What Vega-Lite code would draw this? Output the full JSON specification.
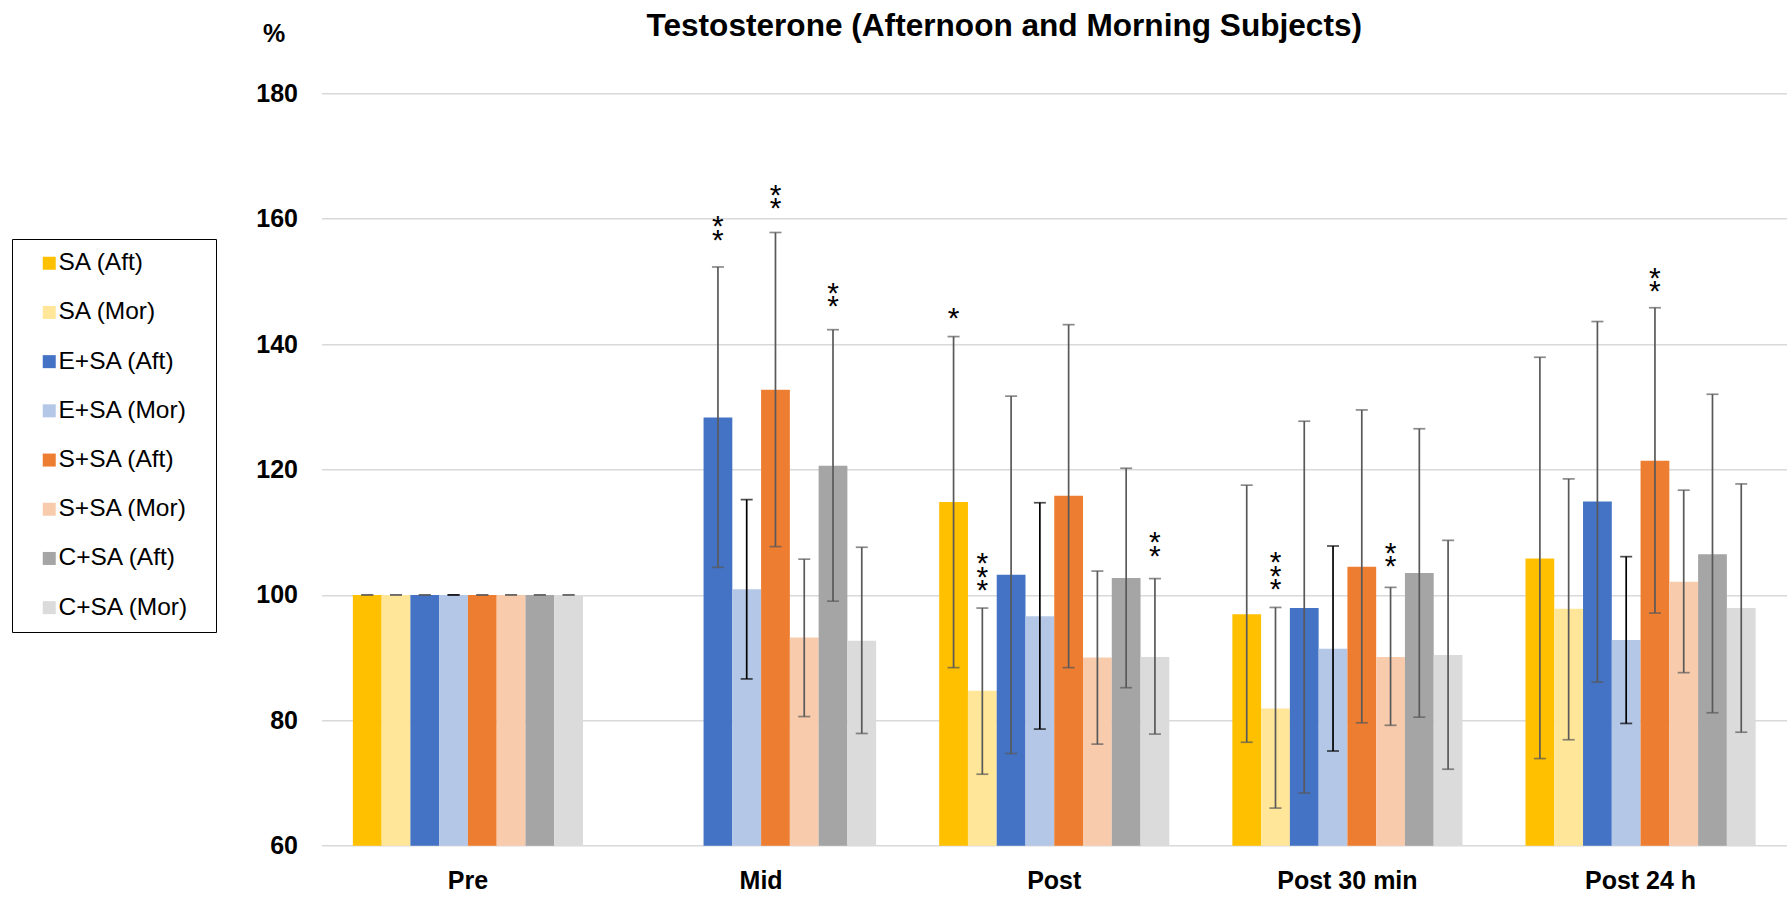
{
  "$schema": "https://vega.github.io/schema/vega-lite/v6.json",
  "autosize": {"type": "none"},
  "width": 1465.5,
  "height": 752.4,
  "padding": {"left": 321.5, "top": 93.3, "right": 0, "bottom": 53.3},
  "background": "white",
  "title": {
    "text": "Testosterone (Afternoon and Morning Subjects)",
    "font": "Liberation Sans",
    "fontSize": 31.6,
    "fontWeight": "bold",
    "color": "black",
    "frame": "group",
    "anchor": "middle",
    "dx": -50,
    "dy": 46,
    "baseline": "alphabetic",
    "offset": 0
  },
  "datasets": {
    "bars": [
      {"time": "Pre", "group": "SA (Aft)", "value": 100, "lo": 100, "hi": 100},
      {"time": "Pre", "group": "SA (Mor)", "value": 100, "lo": 100, "hi": 100},
      {"time": "Pre", "group": "E+SA (Aft)", "value": 100, "lo": 100, "hi": 100},
      {"time": "Pre", "group": "E+SA (Mor)", "value": 100, "lo": 100, "hi": 100},
      {"time": "Pre", "group": "S+SA (Aft)", "value": 100, "lo": 100, "hi": 100},
      {"time": "Pre", "group": "S+SA (Mor)", "value": 100, "lo": 100, "hi": 100},
      {"time": "Pre", "group": "C+SA (Aft)", "value": 100, "lo": 100, "hi": 100},
      {"time": "Pre", "group": "C+SA (Mor)", "value": 100, "lo": 100, "hi": 100},
      {"time": "Mid", "group": "E+SA (Aft)", "value": 128.3, "lo": 104.4, "hi": 152.3},
      {"time": "Mid", "group": "E+SA (Mor)", "value": 100.9, "lo": 86.6, "hi": 115.2},
      {"time": "Mid", "group": "S+SA (Aft)", "value": 132.7, "lo": 107.7, "hi": 157.8},
      {"time": "Mid", "group": "S+SA (Mor)", "value": 93.2, "lo": 80.6, "hi": 105.7},
      {"time": "Mid", "group": "C+SA (Aft)", "value": 120.6, "lo": 99.0, "hi": 142.3},
      {"time": "Mid", "group": "C+SA (Mor)", "value": 92.7, "lo": 77.9, "hi": 107.6},
      {"time": "Post", "group": "SA (Aft)", "value": 114.8, "lo": 88.4, "hi": 141.2},
      {"time": "Post", "group": "SA (Mor)", "value": 84.7, "lo": 71.4, "hi": 97.9},
      {"time": "Post", "group": "E+SA (Aft)", "value": 103.2, "lo": 74.7, "hi": 131.7},
      {"time": "Post", "group": "E+SA (Mor)", "value": 96.6, "lo": 78.6, "hi": 114.7},
      {"time": "Post", "group": "S+SA (Aft)", "value": 115.8, "lo": 88.4, "hi": 143.1},
      {"time": "Post", "group": "S+SA (Mor)", "value": 90.0, "lo": 76.2, "hi": 103.8},
      {"time": "Post", "group": "C+SA (Aft)", "value": 102.7, "lo": 85.2, "hi": 120.2},
      {"time": "Post", "group": "C+SA (Mor)", "value": 90.1, "lo": 77.8, "hi": 102.6},
      {"time": "Post 30 min", "group": "SA (Aft)", "value": 96.9, "lo": 76.5, "hi": 117.5},
      {"time": "Post 30 min", "group": "SA (Mor)", "value": 81.9, "lo": 66.0, "hi": 98.0},
      {"time": "Post 30 min", "group": "E+SA (Aft)", "value": 97.9, "lo": 68.4, "hi": 127.7},
      {"time": "Post 30 min", "group": "E+SA (Mor)", "value": 91.4, "lo": 75.1, "hi": 107.8},
      {"time": "Post 30 min", "group": "S+SA (Aft)", "value": 104.5, "lo": 79.6, "hi": 129.5},
      {"time": "Post 30 min", "group": "S+SA (Mor)", "value": 90.1, "lo": 79.2, "hi": 101.2},
      {"time": "Post 30 min", "group": "C+SA (Aft)", "value": 103.5, "lo": 80.5, "hi": 126.5},
      {"time": "Post 30 min", "group": "C+SA (Mor)", "value": 90.4, "lo": 72.2, "hi": 108.7},
      {"time": "Post 24 h", "group": "SA (Aft)", "value": 105.8, "lo": 73.9, "hi": 137.9},
      {"time": "Post 24 h", "group": "SA (Mor)", "value": 97.8, "lo": 76.9, "hi": 118.5},
      {"time": "Post 24 h", "group": "E+SA (Aft)", "value": 114.9, "lo": 86.1, "hi": 143.6},
      {"time": "Post 24 h", "group": "E+SA (Mor)", "value": 92.8, "lo": 79.5, "hi": 106.1},
      {"time": "Post 24 h", "group": "S+SA (Aft)", "value": 121.4, "lo": 97.1, "hi": 145.8},
      {"time": "Post 24 h", "group": "S+SA (Mor)", "value": 102.1, "lo": 87.6, "hi": 116.7},
      {"time": "Post 24 h", "group": "C+SA (Aft)", "value": 106.5, "lo": 81.2, "hi": 132.0},
      {"time": "Post 24 h", "group": "C+SA (Mor)", "value": 97.9, "lo": 78.1, "hi": 117.7}
    ],
    "stars": [
      {"time": "Mid", "group": "E+SA (Aft)", "sig": "*\n*", "at": 159.9},
      {"time": "Mid", "group": "S+SA (Aft)", "sig": "*\n*", "at": 164.9},
      {"time": "Mid", "group": "C+SA (Aft)", "sig": "*\n*", "at": 149.3},
      {"time": "Post", "group": "SA (Aft)", "sig": "*", "at": 145.2},
      {"time": "Post", "group": "SA (Mor)", "sig": "*\n*\n*", "at": 106.2},
      {"time": "Post", "group": "C+SA (Mor)", "sig": "*\n*", "at": 109.5},
      {"time": "Post 30 min", "group": "SA (Mor)", "sig": "*\n*\n*", "at": 106.3},
      {"time": "Post 30 min", "group": "S+SA (Mor)", "sig": "*\n*", "at": 107.8},
      {"time": "Post 24 h", "group": "S+SA (Aft)", "sig": "*\n*", "at": 151.7}
    ]
  },
  "encoding": {
    "x": {
      "field": "time",
      "type": "nominal",
      "sort": ["Pre", "Mid", "Post", "Post 30 min", "Post 24 h"],
      "scale": {"paddingInner": 0.215, "paddingOuter": 0.107},
      "axis": {
        "title": null,
        "labelAngle": 0,
        "domain": false,
        "ticks": false,
        "labelFont": "Liberation Sans",
        "labelFontSize": 25,
        "labelFontWeight": "bold",
        "labelColor": "black",
        "labelPadding": 23
      }
    },
    "xOffset": {
      "field": "group",
      "type": "nominal",
      "sort": ["SA (Aft)", "SA (Mor)", "E+SA (Aft)", "E+SA (Mor)", "S+SA (Aft)", "S+SA (Mor)", "C+SA (Aft)", "C+SA (Mor)"],
      "scale": {"domain": ["SA (Aft)", "SA (Mor)", "E+SA (Aft)", "E+SA (Mor)", "S+SA (Aft)", "S+SA (Mor)", "C+SA (Aft)", "C+SA (Mor)"], "paddingInner": 0, "paddingOuter": 0}
    }
  },
  "layer": [
    {
      "data": {"name": "bars"},
      "mark": {"type": "bar"},
      "encoding": {
        "y": {
          "field": "value",
          "type": "quantitative",
          "title": "%",
          "scale": {"domain": [60, 180], "nice": false, "zero": false},
          "axis": {
            "values": [60, 80, 100, 120, 140, 160, 180],
            "grid": true,
            "gridColor": "#D9D9D9",
            "gridWidth": 1.5,
            "domain": false,
            "ticks": false,
            "labelFont": "Liberation Sans",
            "labelFontSize": 25,
            "labelFontWeight": "bold",
            "labelColor": "black",
            "labelPadding": 24,
            "titleAngle": 0,
            "titleX": -48,
            "titleY": -52,
            "titleAlign": "center",
            "titleBaseline": "alphabetic",
            "titleFont": "Liberation Sans",
            "titleFontSize": 25,
            "titleFontWeight": "bold",
            "titleColor": "black"
          }
        },
        "y2": {"datum": 60},
        "color": {
          "field": "group",
          "type": "nominal",
          "scale": {
            "domain": ["SA (Aft)", "SA (Mor)", "E+SA (Aft)", "E+SA (Mor)", "S+SA (Aft)", "S+SA (Mor)", "C+SA (Aft)", "C+SA (Mor)"],
            "range": ["#FFC000", "#FFE699", "#4472C4", "#B4C7E7", "#ED7D31", "#F8CBAD", "#A5A5A5", "#DBDBDB"]
          },
          "legend": {
            "orient": "none",
            "legendX": -309.5,
            "legendY": 145.7,
            "title": " ",
            "titleOrient": "right",
            "titleFontSize": 1,
            "titlePadding": 15,
            "padding": 12,
            "strokeColor": "black",
            "fillColor": "white",
            "symbolType": "square",
            "symbolSize": 169,
            "symbolStrokeWidth": 0,
            "symbolOffset": 13,
            "labelOffset": -3,
            "labelFont": "Liberation Sans",
            "labelFontSize": 24.5,
            "labelColor": "black",
            "labelLimit": 400,
            "rowPadding": 24.2
          }
        }
      }
    },
    {
      "data": {"name": "bars"},
      "mark": {"type": "rule", "strokeWidth": 1.7},
      "encoding": {
        "y": {"field": "lo", "type": "quantitative", "title": "%"},
        "y2": {"field": "hi"},
        "color": {"condition": {"test": "datum.group === 'E+SA (Mor)'", "value": "#000000"}, "value": "#595959"}
      }
    },
    {
      "data": {"name": "bars"},
      "mark": {"type": "tick", "orient": "horizontal", "size": 12, "thickness": 1.7},
      "encoding": {
        "y": {"field": "lo", "type": "quantitative", "title": "%"},
        "color": {"condition": {"test": "datum.group === 'E+SA (Mor)'", "value": "#000000"}, "value": "#595959"}
      }
    },
    {
      "data": {"name": "bars"},
      "mark": {"type": "tick", "orient": "horizontal", "size": 12, "thickness": 1.7},
      "encoding": {
        "y": {"field": "hi", "type": "quantitative", "title": "%"},
        "color": {"condition": {"test": "datum.group === 'E+SA (Mor)'", "value": "#000000"}, "value": "#595959"}
      }
    },
    {
      "data": {"name": "stars"},
      "mark": {"type": "text", "font": "Liberation Sans", "fontSize": 30, "lineBreak": "\n", "lineHeight": 13.5, "align": "center", "baseline": "alphabetic", "dy": 17, "color": "black"},
      "encoding": {
        "y": {"field": "at", "type": "quantitative", "title": "%"},
        "text": {"field": "sig", "type": "nominal"}
      }
    }
  ],
  "config": {"view": {"stroke": null}, "font": "Liberation Sans"}
}
